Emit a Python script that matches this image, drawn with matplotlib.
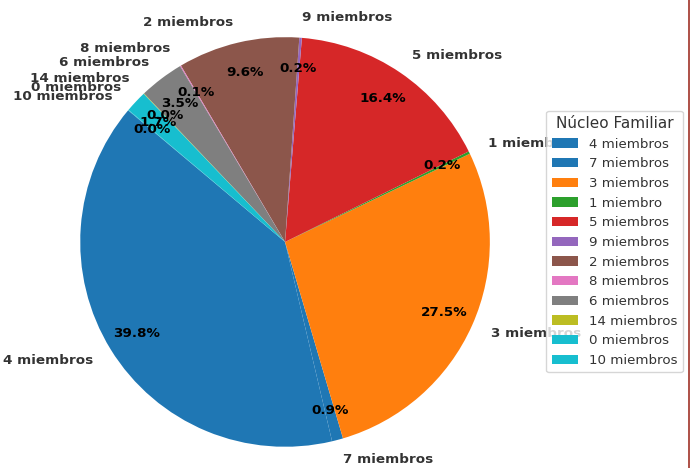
import matplotlib.pyplot as plt
import numpy as np
from matplotlib.lines import Line2D

# household size counts
categorias = ["4 miembros", "7 miembros", "3 miembros", "1 miembro", "5 miembros",
              "9 miembros", "2 miembros", "8 miembros", "6 miembros", "14 miembros",
              "0 miembros", "10 miembros"]
conteos = [995, 22, 688, 5, 410, 5, 240, 2, 88, 1, 43, 1]

colores = plt.cm.tab10(np.linspace(0, 1, len(categorias)))

fig = plt.figure(figsize=(6.91, 4.68), dpi=100)
ax = fig.add_axes([0.042, -0.064, 0.741, 1.094])

wedges, texts, autotexts = ax.pie(conteos, labels=categorias, colors=colores,
                                  autopct='%1.1f%%', startangle=140, pctdistance=0.85,
                                  textprops={'fontsize': 9.7})
ax.set_xlim(-1.25, 1.25)
ax.set_ylim(-1.25, 1.25)

for t in texts:
    t.set_fontweight('bold')
    t.set_color('#333333')
for t in autotexts:
    t.set_fontweight('bold')
    t.set_color('black')

leg = fig.legend(wedges, categorias, title="Núcleo Familiar", loc='center left',
                 bbox_to_anchor=(0.781, 0.484), fontsize=9.6, title_fontsize=11)
for t in leg.get_texts():
    t.set_color('#333333')
leg.get_title().set_color('#333333')

# thin border line at the right edge
fig.add_artist(Line2D([0.997, 0.997], [0, 1], color='#a03228', linewidth=1.2))

fig.savefig("out.png", dpi=100)
